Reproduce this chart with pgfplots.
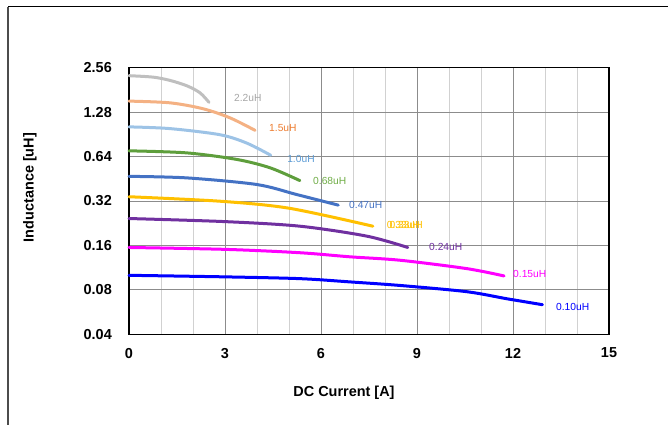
\documentclass[border=0pt]{standalone}
\usepackage{fontspec}
\setmainfont{Liberation Sans}
\usepackage{pgfplots}
\pgfplotsset{compat=1.18}
\definecolor{cA}{HTML}{BFBFBF}
\definecolor{cB}{HTML}{F4B183}
\definecolor{cC}{HTML}{9DC3E6}
\definecolor{cD}{HTML}{5E9E3C}
\definecolor{cE}{HTML}{4472C4}
\definecolor{cF}{HTML}{FFC000}
\definecolor{cG}{HTML}{7030A0}
\definecolor{cH}{HTML}{FF00FF}
\definecolor{cI}{HTML}{0000FF}
\definecolor{lA}{HTML}{A6A6A6}
\definecolor{lB}{HTML}{ED7D31}
\definecolor{lC}{HTML}{5B9BD5}
\definecolor{lD}{HTML}{70AD47}
\begin{document}
\begin{tikzpicture}
\useasboundingbox (0,0) rectangle (668bp,425bp);
\draw[black, line width=1bp] (8bp,418bp) -- (668bp,418bp);
\draw[black!70, line width=1.2bp] (8bp,418bp) -- (8bp,0);
\begin{axis}[at={(129bp,90.7bp)}, anchor=south west, scale only axis,
  width=480bp, height=266.6bp,
  xmin=0, xmax=15, ymode=log, log basis y=2, ymin=0.04, ymax=2.56,
  xtick={0,3,6,9,12,15}, minor xtick={1,2,4,5,7,8,10,11,13,14},
  ytick={0.04,0.08,0.16,0.32,0.64,1.28,2.56},
  yticklabels={0.04,0.08,0.16,0.32,0.64,1.28,2.56},
  xmajorgrids, xminorgrids, ymajorgrids,
  major grid style={draw=black!45, line width=0.9bp},
  minor grid style={draw=black!18, line width=0.9bp},
  major tick length=0pt, minor tick length=0pt,
  axis line style={black, line width=1.3bp},
  tick label style={font=\fontsize{14.5}{16}\selectfont\bfseries},
  /pgf/number format/assume math mode=true,
  xticklabel style={anchor=north, inner sep=0pt, yshift=-13.5bp},
  yticklabel style={anchor=east, inner sep=0pt, xshift=-17bp},
  every axis plot/.append style={line width=3bp, smooth, no markers, line cap=round},
  clip=false,
]
\addplot[cA] coordinates {(0,2.26) (0.75,2.21) (1.28,2.10) (1.81,1.93) (2.22,1.73) (2.5,1.49)};
\addplot[cB] coordinates {(0,1.52) (1.28,1.48) (2.31,1.35) (3.16,1.17) (3.94,0.963)};
\addplot[cC] coordinates {(0,1.017) (1.28,0.99) (2.84,0.90) (3.68,0.79) (4.43,0.653)};
\addplot[cD] coordinates {(0,0.70) (1.8,0.678) (3.37,0.612) (4.41,0.537) (5.34,0.44)};
\addplot[cE] coordinates {(0,0.47) (1.8,0.459) (3.99,0.414) (5.24,0.354) (6.54,0.300)};
\addplot[cF] coordinates {(0,0.342) (2.84,0.319) (5.0,0.286) (7.62,0.216)};
\addplot[cG] coordinates {(0,0.2435) (3.0,0.232) (5.34,0.216) (7.43,0.185) (8.71,0.155)};
\addplot[cH] coordinates {(0,0.155) (3.0,0.1505) (5.34,0.1428) (6.9,0.134) (8.47,0.127) (10.55,0.1115) (11.72,0.0994)};
\addplot[cI] coordinates {(0,0.1004) (3.0,0.098) (5.34,0.0953) (6.9,0.0906) (8.47,0.0857) (10.55,0.0778) (11.8,0.0697) (12.92,0.0635)};
\begin{scope}[every node/.style={anchor=west, inner sep=0pt, font=\fontsize{10.3}{12}\selectfont}]
\node[text=lA] at (axis cs:3.28,1.60) {2.2uH};
\node[text=lB] at (axis cs:4.375,1.00) {1.5uH};
\node[text=lC] at (axis cs:4.94,0.620) {1.0uH};
\node[text=lD] at (axis cs:5.75,0.44) {0.68uH};
\node[text=cE] at (axis cs:6.875,0.2985) {0.47uH};
\node[text=cF] at (axis cs:8.05,0.2217) {0.33uH};
\node[text=cF] at (axis cs:8.14,0.2217) {0.33uH};
\node[text=cG] at (axis cs:9.375,0.156) {0.24uH};
\node[text=cH] at (axis cs:12.0,0.1029) {0.15uH};
\node[text=cI] at (axis cs:13.34,0.0611) {0.10uH};
\end{scope}
\end{axis}
\node[font=\fontsize{14.5}{16}\selectfont\bfseries] at (344bp,32bp) {DC Current [A]};
\node[font=\fontsize{14.5}{16}\selectfont\bfseries, rotate=90] at (30bp,237.5bp) {Inductance [uH]};
\end{tikzpicture}
\end{document}
